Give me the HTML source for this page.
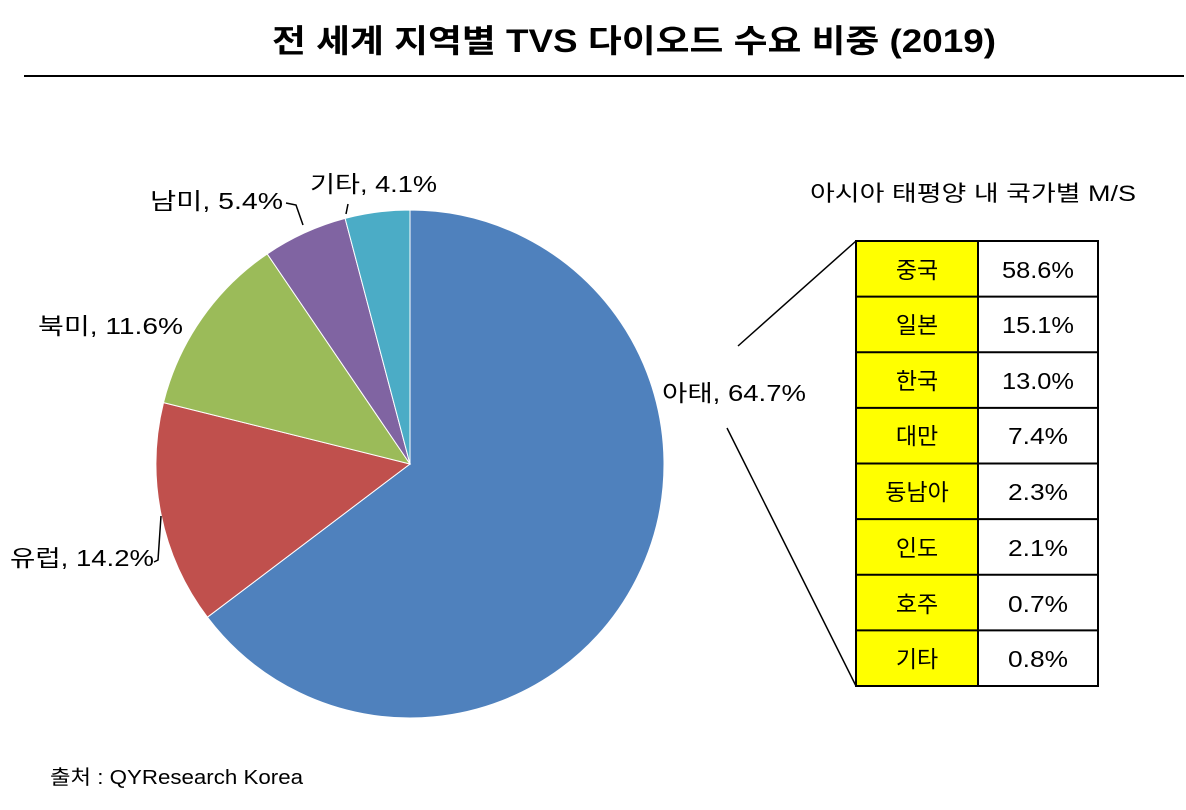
<!DOCTYPE html>
<html><head><meta charset="utf-8"><style>
body{margin:0;background:#fff;}
svg text{font-family:"Liberation Sans","Noto Sans CJK KR",sans-serif;fill:#000;}
</style></head><body>
<svg width="1186" height="805" viewBox="0 0 1186 805" xmlns="http://www.w3.org/2000/svg">
<text x="272" y="52" font-size="32" font-weight="bold" textLength="724" lengthAdjust="spacingAndGlyphs">전 세계 지역별 TVS 다이오드 수요 비중 (2019)</text>
<line x1="24" y1="76" x2="1184" y2="76" stroke="#000" stroke-width="2"/>
<g stroke="#fff" stroke-width="1">
<path d="M410,464 L410,210 A254,254 0 1,1 207.4,617.2 Z" fill="#4F81BD"/>
<path d="M410,464 L207.4,617.2 A254,254 0 0,1 163.5,402.6 Z" fill="#C0504D"/>
<path d="M410,464 L163.5,402.6 A254,254 0 0,1 267.2,253.9 Z" fill="#9BBB59"/>
<path d="M410,464 L267.2,253.9 A254,254 0 0,1 345.1,218.4 Z" fill="#8064A2"/>
<path d="M410,464 L345.1,218.4 A254,254 0 0,1 410,210 Z" fill="#4BACC6"/>
</g>
<g font-size="23" lengthAdjust="spacingAndGlyphs">
<text x="662" y="401" textLength="144" lengthAdjust="spacingAndGlyphs">아태, 64.7%</text>
<text x="10" y="566" textLength="144" lengthAdjust="spacingAndGlyphs">유럽, 14.2%</text>
<text x="38" y="334" textLength="145" lengthAdjust="spacingAndGlyphs">북미, 11.6%</text>
<text x="150" y="209" textLength="133" lengthAdjust="spacingAndGlyphs">남미, 5.4%</text>
<text x="310" y="192" textLength="127" lengthAdjust="spacingAndGlyphs">기타, 4.1%</text>
</g>
<polyline points="154,562 158,560 161,516" fill="none" stroke="#000" stroke-width="1.5"/>
<polyline points="286,203 296,205 303,225" fill="none" stroke="#000" stroke-width="1.5"/>
<polyline points="346,214 348,204" fill="none" stroke="#000" stroke-width="1.5"/>
<text x="810" y="201" font-size="22" textLength="326" lengthAdjust="spacingAndGlyphs">아시아 태평양 내 국가별 M/S</text>
<line x1="738" y1="346" x2="856" y2="241" stroke="#000" stroke-width="1.5"/>
<line x1="727" y1="428" x2="856" y2="686" stroke="#000" stroke-width="1.5"/>
<rect x="856" y="241" width="122" height="445" fill="#FFFF00"/>
<rect x="856" y="241" width="242" height="445" fill="none" stroke="#000" stroke-width="2"/>
<line x1="978" y1="241" x2="978" y2="686" stroke="#000" stroke-width="2"/>
<g stroke="#000" stroke-width="2">
<line x1="856" y1="296.6" x2="1098" y2="296.6"/>
<line x1="856" y1="352.3" x2="1098" y2="352.3"/>
<line x1="856" y1="407.9" x2="1098" y2="407.9"/>
<line x1="856" y1="463.5" x2="1098" y2="463.5"/>
<line x1="856" y1="519.1" x2="1098" y2="519.1"/>
<line x1="856" y1="574.8" x2="1098" y2="574.8"/>
<line x1="856" y1="630.4" x2="1098" y2="630.4"/>
</g>
<g font-size="23" text-anchor="middle">
<text x="917" y="278">중국</text><text x="1038" y="278" textLength="72" lengthAdjust="spacingAndGlyphs">58.6%</text>
<text x="917" y="333">일본</text><text x="1038" y="333" textLength="72" lengthAdjust="spacingAndGlyphs">15.1%</text>
<text x="917" y="389">한국</text><text x="1038" y="389" textLength="72" lengthAdjust="spacingAndGlyphs">13.0%</text>
<text x="917" y="444">대만</text><text x="1038" y="444" textLength="60" lengthAdjust="spacingAndGlyphs">7.4%</text>
<text x="917" y="500">동남아</text><text x="1038" y="500" textLength="60" lengthAdjust="spacingAndGlyphs">2.3%</text>
<text x="917" y="556">인도</text><text x="1038" y="556" textLength="60" lengthAdjust="spacingAndGlyphs">2.1%</text>
<text x="917" y="612">호주</text><text x="1038" y="612" textLength="60" lengthAdjust="spacingAndGlyphs">0.7%</text>
<text x="917" y="667">기타</text><text x="1038" y="667" textLength="60" lengthAdjust="spacingAndGlyphs">0.8%</text>
</g>
<text x="50" y="784" font-size="20" textLength="253" lengthAdjust="spacingAndGlyphs">출처 : QYResearch Korea</text>
</svg>
</body></html>
